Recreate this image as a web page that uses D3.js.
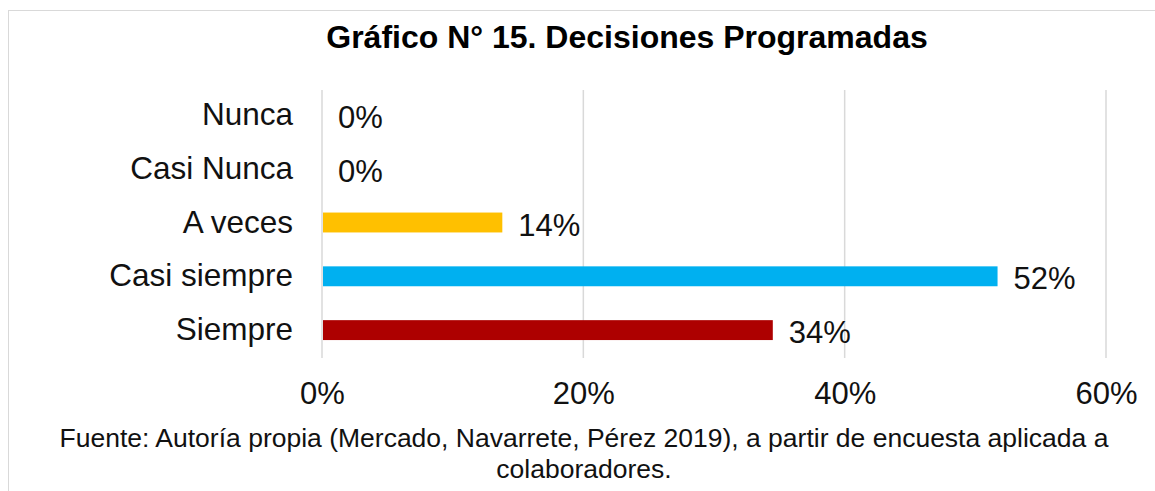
<!DOCTYPE html>
<html>
<head>
<meta charset="utf-8">
<script src="https://cdn.jsdelivr.net/npm/d3@7"></script>
<style>
  body { margin: 0; background: #fff; }
  svg text { font-family: "Liberation Sans", Arial, sans-serif; }
</style>
</head>
<body>
<div id="app"></div>
<script>
const categories = ["Nunca", "Casi Nunca", "A veces", "Casi siempre", "Siempre"];
const values = [0, 0, 0.138, 0.517, 0.345];
const labels = ["0%", "0%", "14%", "52%", "34%"];
const colors = ["#ffc000", "#ffc000", "#ffc000", "#00b0f0", "#ad0000"];
const ticks = [0, 0.2, 0.4, 0.6];

const W = 1155, H = 491;
const margin = { top: 88, right: 49, bottom: 134, left: 322 };
const width = W - margin.left - margin.right;
const height = H - margin.top - margin.bottom;

const svg = d3.select("#app")
    .append("svg")
    .attr("width", W)
    .attr("height", H);

// outer frame
svg.append("rect")
    .attr("x", 8.5)
    .attr("y", 10.5)
    .attr("width", 1170)
    .attr("height", 520)
    .attr("fill", "none")
    .attr("stroke", "#d9d9d9");

svg.append("text")
    .attr("x", 627)
    .attr("y", 48)
    .attr("text-anchor", "middle")
    .attr("font-size", "32px")
    .attr("font-weight", "bold")
    .attr("fill", "#000")
    .text("Gráfico N° 15. Decisiones Programadas");

const g = svg.append("g")
    .attr("transform", `translate(${margin.left},${margin.top})`);

const x = d3.scaleLinear().domain([0, 0.6]).range([0, width]);
const y = d3.scaleBand().domain(categories).range([0, height]).paddingInner(0.63).paddingOuter(0.315);

// gridlines
g.selectAll(".grid")
    .data(ticks)
    .enter()
    .append("line")
    .attr("x1", d => x(d))
    .attr("x2", d => x(d))
    .attr("y1", 2)
    .attr("y2", height + 1)
    .attr("stroke", "#d9d9d9")
    .attr("stroke-width", 1.5);

// x axis labels
const xAxis = g.append("g")
    .attr("transform", `translate(0,${height})`)
    .call(d3.axisBottom(x).tickValues(ticks).tickFormat(d3.format(".0%")).tickSize(0).tickPadding(25));
xAxis.select(".domain").remove();
xAxis.selectAll("text")
    .attr("font-size", "31px")
    .attr("fill", "#111")
    .style("font-family", "'Liberation Sans', Arial, sans-serif");

// y axis labels
const yAxis = g.append("g")
    .call(d3.axisLeft(y).tickSize(0).tickPadding(29));
yAxis.select(".domain").remove();
yAxis.selectAll("text")
    .attr("font-size", "31.5px")
    .attr("fill", "#111")
    .style("font-family", "'Liberation Sans', Arial, sans-serif");

// bars
g.selectAll(".bar")
    .data(categories)
    .enter()
    .append("rect")
    .attr("x", x(0) + 1)
    .attr("y", d => y(d))
    .attr("width", (d, i) => Math.max(0, x(values[i]) - x(0) - 1))
    .attr("height", y.bandwidth())
    .attr("fill", (d, i) => colors[i]);

// value labels
g.selectAll(".val")
    .data(categories)
    .enter()
    .append("text")
    .attr("x", (d, i) => x(values[i]) + 16)
    .attr("y", d => y(d) + y.bandwidth() / 2 + 13)
    .attr("font-size", "31px")
    .attr("fill", "#111")
    .text((d, i) => labels[i]);

// source note
const note = ["Fuente: Autoría propia (Mercado, Navarrete, Pérez 2019), a partir de encuesta aplicada a", "colaboradores."];
svg.selectAll(".note")
    .data(note)
    .enter()
    .append("text")
    .attr("x", 584)
    .attr("y", (d, i) => 447 + i * 31)
    .attr("text-anchor", "middle")
    .attr("font-size", "26.5px")
    .attr("fill", "#111")
    .text(d => d);
</script>
</body>
</html>
